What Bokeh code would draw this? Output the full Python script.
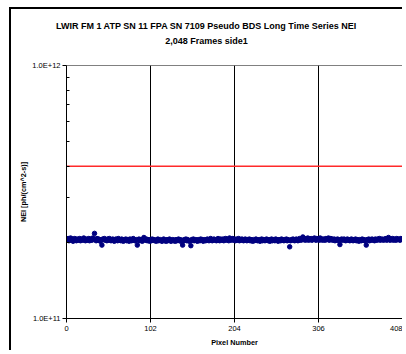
from bokeh.plotting import figure
from bokeh.models import Range1d, FixedTicker, LinearAxis
from bokeh.embed import file_html
from bokeh.resources import INLINE

title_lines = ["LWIR FM 1 ATP SN 11 FPA SN 7109 Pseudo BDS Long Time Series NEI",
               "2,048 Frames side1"]
x_label = "Pixel Number"
y_label = "NEI [ph/(cm^2-s)]"
x_ticks = [0, 102, 204, 306, 408]
y_major = [1e11, 1e12]
y_major_labels = ["1.0E+11", "1.0E+12"]
y_minor = [2e11, 3e11, 4e11, 5e11, 6e11, 7e11, 8e11, 9e11]

# NEI per pixel, in units of 1e9 ph/(cm^2-s)
nei_e9 = [
    206,204,207,203,205,208,204,206,202,205,207,204,203,206,205,204,207,203,205,206,204,208,205,203,
    206,204,205,207,203,206,205,204,208,206,217,205,203,207,204,206,205,202,204,195,206,205,207,204,
    205,203,206,204,207,205,203,204,206,205,202,204,206,205,203,207,204,205,203,206,204,202,205,204,
    206,203,205,204,202,206,205,203,204,207,205,203,204,205,195,204,206,203,205,204,202,206,209,205,
    204,206,203,205,204,202,205,203,206,204,205,203,204,202,205,206,203,204,205,203,202,204,206,203,
    204,202,205,203,204,206,203,202,204,205,203,204,202,205,203,204,206,203,205,202,204,195,203,205,
    204,206,203,205,204,202,203,194,205,204,206,203,204,205,203,202,205,204,203,206,204,205,202,204,
    205,203,204,206,205,203,204,207,205,203,204,206,205,204,203,205,207,204,203,206,205,204,206,203,
    205,207,204,206,205,203,208,205,204,206,207,204,205,203,206,204,205,207,203,205,204,206,205,203,
    204,206,205,203,205,204,206,203,205,204,202,205,203,204,206,205,203,204,205,202,204,206,203,205,
    204,203,205,206,204,203,205,202,204,206,203,205,204,203,206,205,204,202,205,204,203,206,205,204,
    203,205,204,206,203,205,204,192,203,205,204,206,205,203,204,206,205,203,204,207,205,204,206,210,
    205,207,204,206,205,208,204,206,205,207,204,205,206,208,205,204,207,205,206,204,208,205,206,204,
    206,205,204,207,205,206,208,204,205,207,206,204,205,206,203,205,204,206,205,203,196,204,206,205,
    204,206,205,203,204,206,205,204,203,205,206,204,203,205,204,206,203,205,204,202,205,204,203,206,
    204,205,203,204,195,205,204,206,203,205,204,206,205,204,203,206,205,204,206,205,207,204,205,206,
    205,204,206,205,207,204,206,209,205,204,206,205,207,204,206,205,204,207,205,206,205,204,207,206,
]
pixels = list(range(len(nei_e9)))
nei = [v * 1e9 for v in nei_e9]

limit_x = [0, 408]
limit_y = [4.0e11, 4.0e11]

# horizontal data position of the chart-area centre, used to centre the title
title_center_x = 170

FONT = "Liberation Sans"

p = figure(width=393, height=343, output_backend="svg", toolbar_location=None,
           y_axis_type="log", x_range=Range1d(0, 408), y_range=Range1d(1e11, 1e12),
           min_border_left=55, min_border_right=2, min_border_top=56, min_border_bottom=34,
           background_fill_color="white", border_fill_color="white")
p.margin = (7, 0, 0, 9)
p.styles = {"border-left": "2px solid black", "border-top": "2px solid black",
            "border-right": "none", "border-bottom": "none"}

p.outline_line_color = "#808080"
p.outline_line_width = 1

# grid
p.xgrid.ticker = FixedTicker(ticks=x_ticks)
p.xgrid.grid_line_color = "black"
p.xgrid.grid_line_width = 1
p.ygrid.grid_line_color = None

# x axis
xa = p.xaxis[0]
xa.ticker = FixedTicker(ticks=x_ticks)
xa.axis_line_color = "black"
xa.major_tick_in = 0
xa.major_tick_out = 4
xa.minor_tick_line_color = None
xa.major_label_text_font = FONT
xa.major_label_text_font_size = "7.5px"
xa.major_label_text_color = "black"
xa.major_label_standoff = 3
xa.axis_label = x_label
xa.axis_label_text_font = FONT
xa.axis_label_text_font_style = "bold"
xa.axis_label_text_font_size = "7.3px"
xa.axis_label_text_color = "black"
xa.axis_label_standoff = 4

# y axis
ya = p.yaxis[0]
ya.ticker = FixedTicker(ticks=y_major, minor_ticks=y_minor)
ya.major_label_overrides = {t: l for t, l in zip(y_major, y_major_labels)}
ya.axis_line_color = "black"
ya.major_tick_in = 0
ya.major_tick_out = 4
ya.minor_tick_in = 3
ya.minor_tick_out = 0
ya.minor_tick_line_color = "black"
ya.major_label_text_font = FONT
ya.major_label_text_font_size = "7.5px"
ya.major_label_text_color = "black"
ya.major_label_standoff = 2
ya.axis_label = y_label
ya.axis_label_text_font = FONT
ya.axis_label_text_font_style = "bold"
ya.axis_label_text_font_size = "7.3px"
ya.axis_label_text_color = "black"
ya.axis_label_standoff = 1

# title lines, centred on the chart area (drawn as text-only axes above the plot)
def title_axis(text, standoff):
    ax = LinearAxis(ticker=FixedTicker(ticks=[title_center_x]),
                    major_label_overrides={title_center_x: text})
    ax.axis_line_color = None
    ax.major_tick_line_color = None
    ax.minor_tick_line_color = None
    ax.major_tick_in = 0
    ax.major_tick_out = 0
    ax.major_label_standoff = standoff
    ax.major_label_text_font = FONT
    ax.major_label_text_font_style = "bold"
    ax.major_label_text_font_size = "9px"
    ax.major_label_text_color = "black"
    return ax

p.add_layout(title_axis(title_lines[1], 20), "above")
p.add_layout(title_axis(title_lines[0], 2), "above")

# data
p.line(limit_x, limit_y, line_color="#ff2a2a", line_width=1.6)
p.scatter(pixels, nei, marker="circle", size=4.5, fill_color="#000080", line_color="#000080")

open("out.html", "w").write(file_html(p, INLINE))
